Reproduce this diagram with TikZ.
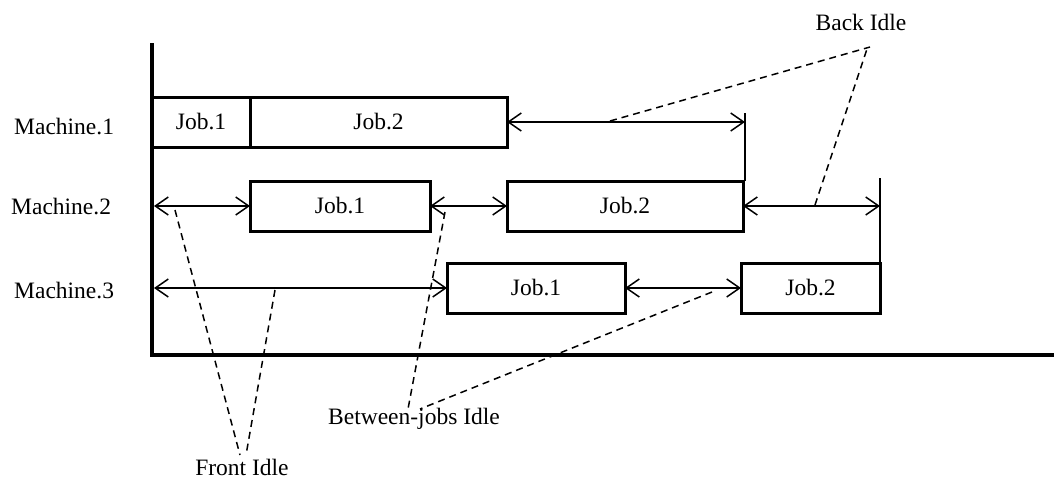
\documentclass[tikz,border=0pt]{standalone}
\usepackage{fontspec}
\setmainfont{Liberation Serif}
\usetikzlibrary{arrows.meta}
\begin{document}
\begin{tikzpicture}[x=1pt,y=-1pt,
  lbl/.style={inner sep=0pt,font=\fontsize{23.5}{27}\selectfont},
  job/.style={draw,line width=3pt,anchor=north west,inner sep=0pt,outer sep=0pt,minimum height=50pt,font=\fontsize{23.5}{27}\selectfont},
  axis/.style={line width=3.5pt},
  idle/.style={line width=1.5pt,{Straight Barb[length=13pt,width=18pt]}-{Straight Barb[length=13pt,width=18pt]}},
  edge/.style={line width=2pt},
  lead/.style={line width=1.5pt,dash pattern=on 7pt off 5pt}]
\useasboundingbox (0,0) rectangle (1054,479);
% axes
\coordinate (ytop) at (152,43);
\coordinate (origin) at (152,355);
\coordinate (xend) at (1054,355);
\draw[axis] (ytop) -- (origin) -- (xend);
% machine labels
\node[lbl,anchor=west] (mach1) at (14,127) {Machine.1};
\node[lbl,anchor=west] (mach2) at (11,207) {Machine.2};
\node[lbl,anchor=west] (mach3) at (14,291) {Machine.3};
% jobs
\node[job,minimum width=98pt] (m1j1) at (152,97) {Job.1};
\node[job,minimum width=257pt] (m1j2) at (250,97) {Job.2};
\node[job,minimum width=180pt] (m2j1) at (250,181) {Job.1};
\node[job,minimum width=236pt] (m2j2) at (507,181) {Job.2};
\node[job,minimum width=178pt] (m3j1) at (447,263) {Job.1};
\node[job,minimum width=139pt] (m3j2) at (741,263) {Job.2};
% end coordinates
\coordinate (m1top) at (745,113);
\coordinate (m2top) at (880,178);
\coordinate (m1end) at (m1j2.east -| m1top);
\coordinate (m2end) at (m2j2.east -| m2top);
\coordinate (m2start) at (m2j1.west -| 154,0);
\coordinate (m3start) at (m3j1.west -| 154,0);
% idle arrows
\draw[idle] (m1j2.east) -- (m1end);
\draw[edge] (m1top) -- (m1top |- m2j2.north);
\draw[idle] (m2start) -- (m2j1.west);
\draw[idle] (m2j1.east) -- (m2j2.west);
\draw[idle] (m2j2.east) -- (m2end);
\draw[edge] (m2top) -- (m2top |- m3j2.north);
\draw[idle] (m3start) -- (m3j1.west);
\draw[idle] (m3j1.east) -- (m3j2.west);
% labels
\node[lbl] (front) at (242,467) {Front Idle};
\node[lbl] (between) at (414,419) {Between-jobs Idle};
\node[lbl] (back) at (861,22) {Back Idle};
% leader lines
\coordinate (f1) at (175,210);
\coordinate (f2) at (275,290);
\coordinate (fa) at (240,455);
\coordinate (fb) at (246,455);
\draw[lead] (f1) -- (fa);
\draw[lead] (f2) -- (fb);
\coordinate (b1) at (445,212);
\coordinate (b2) at (712,292);
\coordinate (ba) at (408,409);
\coordinate (bb) at (420,409);
\draw[lead] (b1) -- (ba);
\draw[lead] (b2) -- (bb);
\coordinate (k1) at (610,121);
\coordinate (k2) at (815,205);
\coordinate (ka) at (870,47);
\coordinate (kb) at (867,49);
\draw[lead] (k1) -- (ka);
\draw[lead] (k2) -- (kb);
\end{tikzpicture}
\end{document}
